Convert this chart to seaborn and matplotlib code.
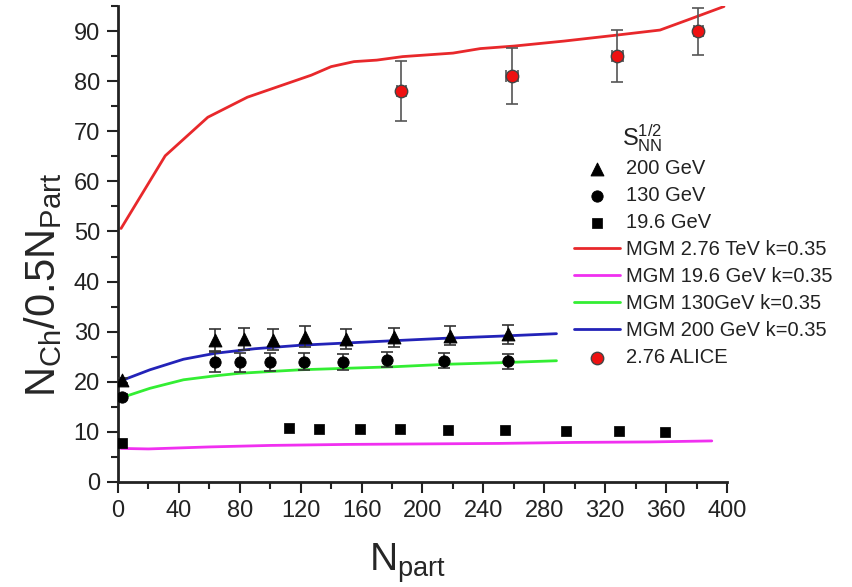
import numpy as np
import pandas as pd
import matplotlib
matplotlib.use("Agg")
import matplotlib.pyplot as plt
from matplotlib.ticker import MultipleLocator
import seaborn as sns

# ---- data ----
# 200 GeV (triangles)
npart_200 = [2.4, 64, 83, 102, 123, 150, 181, 218, 256]
nch_200 = [20.3, 28.3, 28.6, 28.4, 29.0, 28.6, 28.9, 29.2, 29.5]
err_200 = [0.5, 2.2, 2.2, 2.1, 2.1, 2.0, 1.9, 1.9, 1.9]

# 130 GeV (circles)
npart_130 = [2.4, 64, 80, 100, 122, 148, 177, 214, 256]
nch_130 = [17.0, 24.0, 23.9, 24.0, 24.0, 24.0, 24.4, 24.2, 24.1]
err_130 = [0.5, 2.0, 1.9, 1.8, 1.7, 1.6, 1.5, 1.5, 1.5]

# 19.6 GeV (squares)
npart_19 = [2.5, 112, 132, 159, 185, 217, 254, 294, 329, 359]
nch_19 = [7.8, 10.7, 10.6, 10.5, 10.5, 10.4, 10.4, 10.2, 10.1, 10.0]

# ALICE 2.76 TeV
npart_alice = [186, 259, 328, 381]
nch_alice = [78.0, 81.0, 85.0, 90.0]
yerr_alice = [6.0, 5.6, 5.2, 4.7]
xerr_alice = [3.0, 4.0, 3.5, 3.0]

# MGM model curves, k = 0.35
mgm276_x = [2, 31, 59, 85, 127, 140, 155, 170, 187, 220, 238, 260, 293, 325, 356, 374, 398]
mgm276_y = [50.6, 65.1, 72.8, 76.8, 81.2, 82.9, 83.9, 84.2, 84.9, 85.6, 86.5, 87.0, 88.0, 89.1, 90.2, 92.2, 94.9]

mgm19_x = [2, 20, 60, 100, 150, 200, 250, 300, 350, 390]
mgm19_y = [6.7, 6.6, 7.0, 7.3, 7.5, 7.6, 7.7, 7.9, 8.0, 8.2]

mgm130_x = [2, 21, 43, 64, 80, 120, 181, 216, 250, 288]
mgm130_y = [16.8, 18.7, 20.4, 21.2, 21.7, 22.4, 23.0, 23.5, 23.8, 24.2]

mgm200_x = [2, 21, 43, 64, 90, 120, 181, 216, 250, 288]
mgm200_y = [20.2, 22.4, 24.5, 25.7, 26.6, 27.3, 28.2, 28.7, 29.1, 29.6]

sns.set_style("ticks")
plt.rcParams["font.family"] = ["Liberation Sans", "DejaVu Sans"]
plt.rcParams["mathtext.fontset"] = "custom"
plt.rcParams["mathtext.rm"] = "Liberation Sans"
plt.rcParams["mathtext.it"] = "Liberation Sans"

W, H = 853, 587
fig = plt.figure(figsize=(W / 100, H / 100), dpi=100)
ax = fig.add_axes([118 / W, 1 - 482 / H, (727 - 118) / W, (482 - 6) / H])

# model curves
curves = [
    (mgm276_x, mgm276_y, "#e8282b", "MGM 2.76 TeV k=0.35"),
    (mgm19_x, mgm19_y, "#f030f0", "MGM 19.6 GeV k=0.35"),
    (mgm130_x, mgm130_y, "#33ee33", "MGM 130GeV k=0.35"),
    (mgm200_x, mgm200_y, "#2323b8", "MGM 200 GeV k=0.35"),
]
line_handles = []
for xs, ys, col, lab in curves:
    df = pd.DataFrame({"x": xs, "y": ys})
    sns.lineplot(data=df, x="x", y="y", ax=ax, color=col, lw=2, label=lab, legend=False)
    line_handles.append(ax.lines[-1])

# error bars
ax.errorbar(npart_200, nch_200, yerr=err_200, fmt="none", ecolor="#333333",
            elinewidth=1.2, capsize=4, capthick=1.2, zorder=3)
ax.errorbar(npart_130, nch_130, yerr=err_130, fmt="none", ecolor="#333333",
            elinewidth=1.2, capsize=4, capthick=1.2, zorder=3)
ax.errorbar(npart_alice, nch_alice, yerr=yerr_alice, xerr=xerr_alice, fmt="none",
            ecolor="#555555", elinewidth=1.2, capsize=4, capthick=1.2, zorder=3)

# measured points
sns.scatterplot(x=npart_200, y=nch_200, ax=ax, marker="^", s=85, color="black",
                edgecolor="black", zorder=4, legend=False)
h200 = ax.collections[-1]
sns.scatterplot(x=npart_130, y=nch_130, ax=ax, marker="o", s=66, color="black",
                edgecolor="black", zorder=4, legend=False)
h130 = ax.collections[-1]
sns.scatterplot(x=npart_19, y=nch_19, ax=ax, marker="s", s=42, color="black",
                edgecolor="black", zorder=4, legend=False)
h19 = ax.collections[-1]
sns.scatterplot(x=npart_alice, y=nch_alice, ax=ax, marker="o", s=80, color="#ee1111",
                edgecolor="#444444", linewidth=1.0, zorder=5, legend=False)
halice = ax.collections[-1]

ax.set_xlim(0, 400)
ax.set_ylim(0, 95)
ax.xaxis.set_major_locator(MultipleLocator(40))
ax.xaxis.set_minor_locator(MultipleLocator(20))
ax.yaxis.set_major_locator(MultipleLocator(10))
ax.yaxis.set_minor_locator(MultipleLocator(5))
ax.tick_params(which="major", direction="out", length=8, width=1.5, labelsize=17,
               colors="#222222", pad=5)
ax.tick_params(which="minor", direction="out", length=5, width=1.5, colors="#222222")
for side in ("top", "right"):
    ax.spines[side].set_visible(False)
for side in ("left", "bottom"):
    ax.spines[side].set_linewidth(2)
    ax.spines[side].set_color("#222222")

ax.set_xlabel(r"$\mathregular{N_{part}}$", fontsize=28)
ax.set_ylabel(r"$\mathregular{N_{Ch}/0.5N_{Part}}$", fontsize=30)
ax.xaxis.set_label_coords((408 - 118) / (727 - 118), -(585 - 482) / (482 - 6), transform=ax.transAxes)
ax.xaxis.label.set_va("bottom")
ax.yaxis.set_label_coords(-(118 - 22) / (727 - 118), (482 - 285) / (482 - 6), transform=ax.transAxes)
ax.yaxis.label.set_va("top")

# legend header
fig.text(622 / W, 1 - 138 / H, r"$\mathregular{S_{NN}^{1/2}}$", fontsize=17,
         ha="left", va="center", color="#222222")

handles = [h200, h130, h19] + line_handles + [halice]
labels = ["200 GeV", "130 GeV", "19.6 GeV",
          "MGM 2.76 TeV k=0.35", "MGM 19.6 GeV k=0.35",
          "MGM 130GeV k=0.35", "MGM 200 GeV k=0.35", "2.76 ALICE"]
leg = ax.legend(handles, labels, loc="upper left", bbox_to_anchor=(574 / W, 1 - 159 / H),
                bbox_transform=fig.transFigure, frameon=False, fontsize=14.5,
                handlelength=2.3, handletextpad=0.3, labelspacing=0.4,
                borderpad=0, borderaxespad=0)
for t in leg.get_texts():
    t.set_color("#222222")

fig.savefig("out.png", dpi=100)
